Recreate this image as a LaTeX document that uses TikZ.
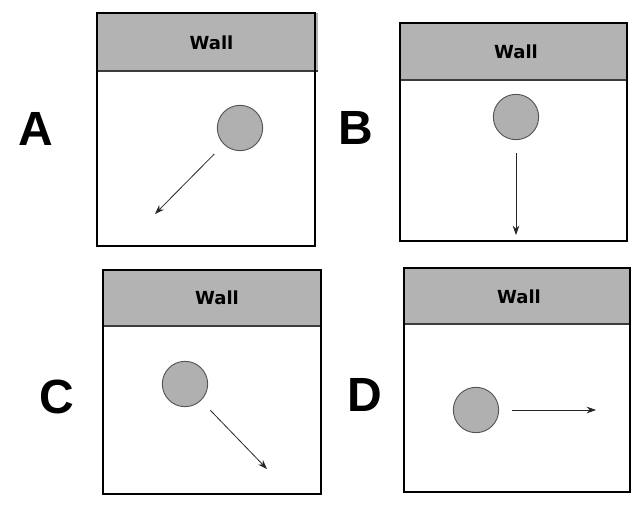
\documentclass[tikz,border=0pt]{standalone}
\usepackage{fontspec}
\setmainfont{Liberation Sans}
\newfontfamily\wallfont{DejaVu Sans}
\usetikzlibrary{arrows.meta}

\definecolor{wallgray}{RGB}{179,179,179}
\definecolor{ballgray}{RGB}{176,176,176}
\definecolor{rimgray}{RGB}{85,85,85}
\definecolor{linegray}{RGB}{60,60,60}

\tikzset{
  frame/.style={draw=black, line width=2.2pt},
  wallband/.style={fill=wallgray, draw=none},
  wallline/.style={draw=linegray, line width=0.8pt},
  ball/.style={circle, minimum size=34pt, inner sep=0pt, fill=ballgray, draw=rimgray, line width=0.7pt},
  motion/.style={-{Stealth[length=7pt,width=5pt]}, draw=black!85, line width=0.6pt, shorten <=10pt},
  panellabel/.style={inner sep=0pt, font=\fontsize{36}{40}\selectfont\bfseries},
  walllabel/.style={inner sep=0pt, font=\wallfont\fontsize{13.5}{16}\selectfont\bfseries}
}

\begin{document}
\begin{tikzpicture}[x=0.75pt,y=0.75pt,yscale=-1,xscale=1]
\useasboundingbox (0,0) rectangle (640,510);

%Panel A
%Shape: Rectangle [id:wallA]
\fill [wallband] (97,13) rectangle (318,71) ;
\draw [wallline] (97,71) -- (318,71) ;
%Shape: Rectangle [id:boxA]
\draw [frame] (97,13) rectangle (315,246) ;
% Text Node
\node (wallA) [walllabel] at (211.5,43) {Wall};
% Text Node
\node (labelA) [panellabel] at (36,129) {A};
%Shape: Circle [id:ballA]
\node (ballA) [ball] at (240,128) {};
\coordinate (endA) at (155,214);
\draw [motion] (ballA) -- (endA) ;

%Panel B
%Shape: Rectangle [id:wallB]
\fill [wallband] (400,23) rectangle (627,80) ;
\draw [wallline] (400,80) -- (627,80) ;
%Shape: Rectangle [id:boxB]
\draw [frame] (400,23) rectangle (627,241) ;
% Text Node
\node (wallB) [walllabel] at (516,52) {Wall};
% Text Node
\node (labelB) [panellabel] at (356,128) {B};
%Shape: Circle [id:ballB]
\node (ballB) [ball] at (516,117) {};
\coordinate (endB) at (516,235);
\draw [motion] (ballB) -- (endB) ;

%Panel C
%Shape: Rectangle [id:wallC]
\fill [wallband] (103,270) rectangle (321,326) ;
\draw [wallline] (103,326) -- (321,326) ;
%Shape: Rectangle [id:boxC]
\draw [frame] (103,270) rectangle (321,494) ;
% Text Node
\node (wallC) [walllabel] at (217,298) {Wall};
% Text Node
\node (labelC) [panellabel] at (57,397) {C};
%Shape: Circle [id:ballC]
\node (ballC) [ball] at (185,384) {};
\coordinate (endC) at (267,469);
\draw [motion] (ballC) -- (endC) ;

%Panel D
%Shape: Rectangle [id:wallD]
\fill [wallband] (404,268) rectangle (630,324) ;
\draw [wallline] (404,324) -- (630,324) ;
%Shape: Rectangle [id:boxD]
\draw [frame] (404,268) rectangle (630,492) ;
% Text Node
\node (wallD) [walllabel] at (519,297) {Wall};
% Text Node
\node (labelD) [panellabel] at (365,395) {D};
%Shape: Circle [id:ballD]
\node (ballD) [ball] at (476,410) {};
\coordinate (endD) at (596,410);
\draw [motion] (ballD) -- (endD) ;

\end{tikzpicture}
\end{document}
